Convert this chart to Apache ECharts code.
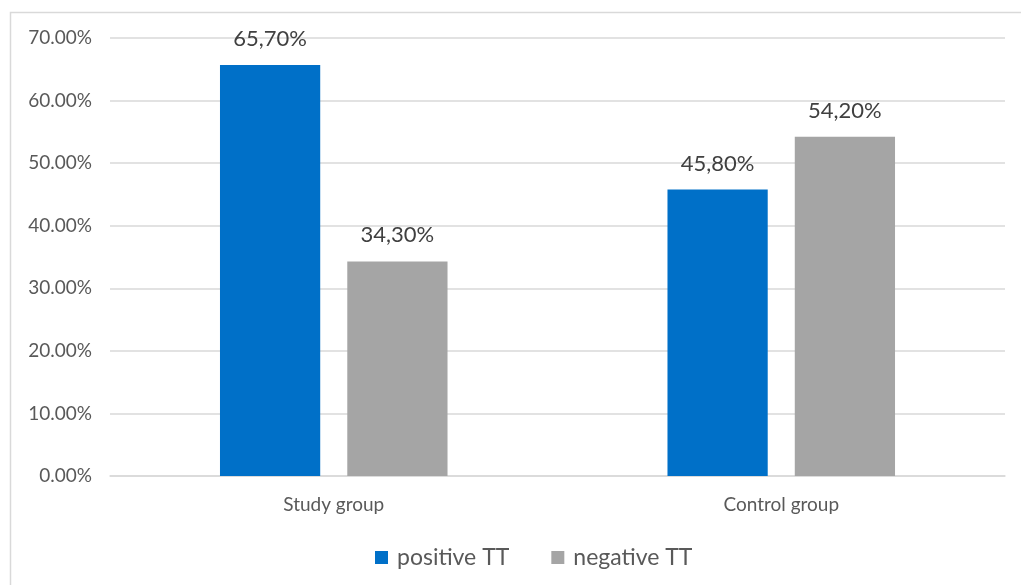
<!DOCTYPE html>
<html>
<head>
<meta charset="utf-8">
<script src="https://cdn.jsdelivr.net/npm/echarts@6/dist/echarts.min.js"></script>
<style>
html,body{margin:0;padding:0;background:#fff;}
#chart{width:1021px;height:585px;}
</style>
</head>
<body>
<div id="chart"></div>
<script>
const categories = ['Study group', 'Control group'];
const positiveTT = [65.7, 45.8];
const negativeTT = [34.3, 54.2];
const seriesNames = ['positive TT', 'negative TT'];

const FONT = 'Lato, "Open Sans", sans-serif';
const chart = echarts.init(document.getElementById('chart'));

function pct(v, sep) {
  return v.toFixed(2).replace('.', sep) + '%';
}

chart.setOption({
  animation: false,
  backgroundColor: '#fff',
  graphic: [{
    type: 'rect',
    shape: { x: 10.5, y: 12.5, width: 1030, height: 600 },
    style: { fill: 'none', stroke: '#d9d9d9', lineWidth: 1.5 },
    silent: true
  }],
  grid: { left: 110, right: 16, top: 38, bottom: 109 },
  legend: {
    bottom: 11,
    left: 370,
    itemWidth: 13,
    itemHeight: 13,
    itemGap: 42,
    icon: 'rect',
    textStyle: { fontFamily: FONT, fontSize: 23, color: '#595959', padding: [0, 0, 0, 4] },
    data: seriesNames
  },
  xAxis: {
    type: 'category',
    data: categories,
    axisLine: { lineStyle: { color: '#d9d9d9', width: 1.5 } },
    axisTick: { show: false },
    axisLabel: { fontFamily: FONT, fontSize: 19, color: '#595959', margin: 19 }
  },
  yAxis: {
    type: 'value',
    min: 0,
    max: 70,
    interval: 10,
    axisLine: { show: false },
    axisTick: { show: false },
    splitLine: { lineStyle: { color: '#d9d9d9', width: 1.5 } },
    axisLabel: {
      fontFamily: FONT, fontSize: 19, color: '#595959', margin: 18,
      formatter: v => pct(v, '.')
    }
  },
  series: [
    {
      name: seriesNames[0],
      type: 'bar',
      data: positiveTT,
      barWidth: '22.4%',
      barGap: '27%',
      itemStyle: { color: '#0070c8' },
      label: {
        show: true, position: 'top', distance: 15,
        fontFamily: FONT, fontSize: 22, color: '#404040',
        formatter: p => pct(p.value, ',')
      }
    },
    {
      name: seriesNames[1],
      type: 'bar',
      data: negativeTT,
      barWidth: '22.4%',
      itemStyle: { color: '#a5a5a5' },
      label: {
        show: true, position: 'top', distance: 15,
        fontFamily: FONT, fontSize: 22, color: '#404040',
        formatter: p => pct(p.value, ',')
      }
    }
  ]
});
</script>
</body>
</html>
